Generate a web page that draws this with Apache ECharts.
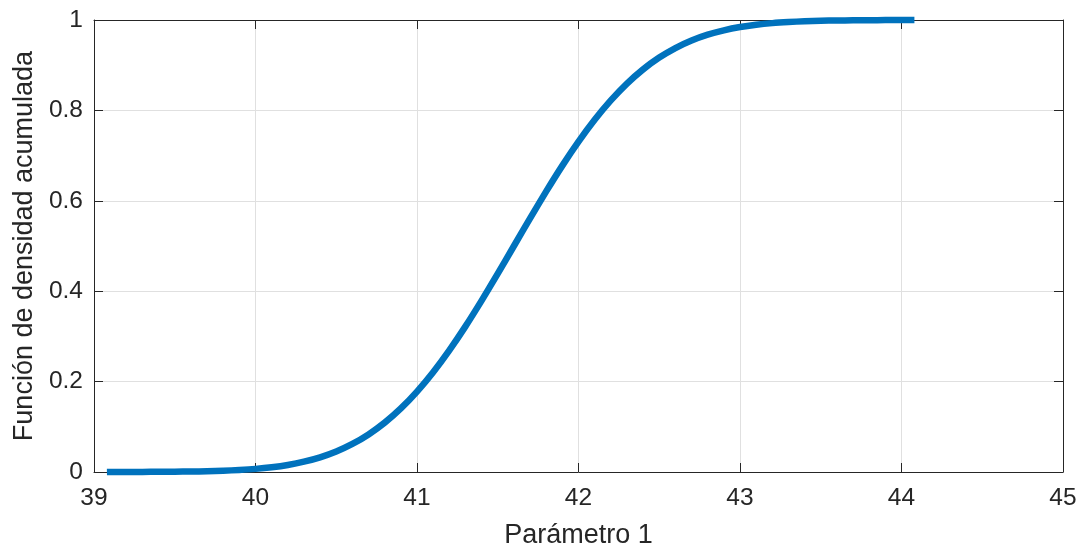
<!DOCTYPE html>
<html>
<head>
<meta charset="utf-8">
<title>Función de densidad acumulada</title>
<script src="https://cdn.jsdelivr.net/npm/echarts@6/dist/echarts.min.js"></script>
<style>
  html, body { margin: 0; padding: 0; background: #ffffff; }
  #chart { width: 1090px; height: 548px; }
</style>
</head>
<body>
<div id="chart"></div>
<script>
// Parameter values (x) and the cumulative probability at each one (y)
const paramValues = [
  39.08, 39.1, 39.2, 39.3, 39.4, 39.5, 39.6, 39.7, 39.8, 39.9,
  40.0, 40.1, 40.2, 40.3, 40.4, 40.5, 40.6, 40.7, 40.8, 40.9,
  41.0, 41.1, 41.2, 41.3, 41.4, 41.5, 41.6, 41.7, 41.8, 41.9,
  42.0, 42.1, 42.2, 42.3, 42.4, 42.5, 42.6, 42.7, 42.8, 42.9,
  43.0, 43.1, 43.2, 43.3, 43.4, 43.5, 43.6, 43.7, 43.8, 43.9,
  44.0, 44.08
];
const cdfValues = [
  0.0000, 0.0001, 0.0001, 0.0002, 0.0004, 0.0006, 0.0011, 0.0017, 0.0028, 0.0045,
  0.0069, 0.0105, 0.0156, 0.0228, 0.0324, 0.0453, 0.0620, 0.0831, 0.1092, 0.1407,
  0.1780, 0.2209, 0.2692, 0.3222, 0.3792, 0.4388, 0.5000, 0.5612, 0.6208, 0.6778,
  0.7308, 0.7791, 0.8220, 0.8593, 0.8908, 0.9169, 0.9380, 0.9547, 0.9676, 0.9772,
  0.9844, 0.9895, 0.9931, 0.9955, 0.9972, 0.9983, 0.9989, 0.9994, 0.9996, 0.9998,
  0.9999, 1.0000
];

const xMin = 39, xMax = 45, xStep = 1;
const yMin = 0, yMax = 1, yStep = 0.2;
const xTitle = 'Parámetro 1';
const yTitle = 'Función de densidad acumulada';

const FONT = '"Liberation Sans", Arial, Helvetica, sans-serif';
const INK = '#262626';
const GRID = '#e0e0e0';

const points = paramValues.map((x, i) => [x, cdfValues[i]]);

const lineCommon = { show: true, onZero: false, lineStyle: { color: INK, width: 1 } };
const tickCommon = { show: true, inside: true, length: 9, lineStyle: { color: INK, width: 1 } };

const chart = echarts.init(document.getElementById('chart'), null, { renderer: 'canvas' });
chart.setOption({
  animation: false,
  backgroundColor: '#ffffff',
  grid: { left: 94, right: 27, top: 20, bottom: 76, show: false, containLabel: false, outerBoundsMode: 'none' },
  xAxis: [
    {
      type: 'value', position: 'bottom', min: xMin, max: xMax, interval: xStep,
      axisLine: lineCommon, axisTick: tickCommon,
      axisLabel: { fontSize: 24.5, color: INK, margin: 14, fontFamily: FONT },
      splitLine: { show: true, lineStyle: { color: GRID, width: 1 } },
      name: xTitle, nameLocation: 'middle', nameGap: 50,
      nameTextStyle: { fontSize: 27, color: INK, fontFamily: FONT }
    },
    {
      type: 'value', position: 'top', min: xMin, max: xMax, interval: xStep,
      axisLine: lineCommon, axisTick: tickCommon,
      axisLabel: { show: false }, splitLine: { show: false }
    }
  ],
  yAxis: [
    {
      type: 'value', position: 'left', min: yMin, max: yMax, interval: yStep,
      axisLine: lineCommon, axisTick: tickCommon,
      axisLabel: { fontSize: 24.5, color: INK, margin: 11, fontFamily: FONT },
      splitLine: { show: true, lineStyle: { color: GRID, width: 1 } },
      name: yTitle, nameLocation: 'middle', nameGap: 56,
      nameTextStyle: { fontSize: 27, color: INK, fontFamily: FONT }
    },
    {
      type: 'value', position: 'right', min: yMin, max: yMax, interval: yStep,
      axisLine: lineCommon, axisTick: tickCommon,
      axisLabel: { show: false }, splitLine: { show: false }
    }
  ],
  series: [
    {
      type: 'line',
      xAxisIndex: 0, yAxisIndex: 0,
      data: points,
      showSymbol: false,
      clip: false,
      smooth: 0.2,
      lineStyle: { color: '#0072BD', width: 6.5, cap: 'butt', join: 'round' },
      z: 5
    }
  ]
});
</script>
</body>
</html>
